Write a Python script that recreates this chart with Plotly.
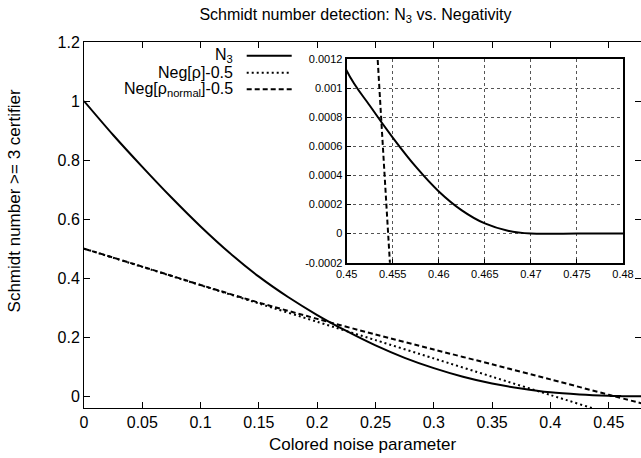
import plotly.graph_objects as go

# ---------------- data ----------------
x_n3 = [0, 0.025, 0.05, 0.075, 0.1, 0.125, 0.15, 0.175, 0.2, 0.225, 0.25, 0.275,
        0.3, 0.325, 0.35, 0.375, 0.4, 0.425, 0.45, 0.4525, 0.455, 0.4575, 0.46,
        0.4625, 0.465, 0.4675, 0.47, 0.475, 0.48]
n3 = [1.0, 0.885, 0.777, 0.673, 0.575, 0.485, 0.405, 0.336, 0.275, 0.221, 0.172, 0.13,
      0.095, 0.066, 0.043, 0.026, 0.013, 0.0056, 0.00112, 0.00088, 0.00066, 0.00046, 0.00029,
      0.00016, 0.00007, 0.00002, 0.0, 0.0, 0.0]

x_neg = [0, 0.05, 0.1, 0.15, 0.2, 0.25, 0.3, 0.35, 0.4, 0.45, 0.48]
neg_rho = [0.5, 0.438, 0.376, 0.314, 0.252, 0.19, 0.128, 0.066, 0.004, -0.058, -0.095]

x_norm = [0, 0.05, 0.1, 0.15, 0.2, 0.25, 0.3, 0.35, 0.4, 0.45, 0.4545, 0.48]
neg_norm = [0.5, 0.439, 0.377, 0.317, 0.262, 0.209, 0.158, 0.108, 0.057, 0.0048, 0.0, -0.026]

main_xticks = [0, 0.05, 0.1, 0.15, 0.2, 0.25, 0.3, 0.35, 0.4, 0.45]
main_yticks = [0, 0.2, 0.4, 0.6, 0.8, 1, 1.2]
inset_xticks = [0.45, 0.455, 0.46, 0.465, 0.47, 0.475, 0.48]
inset_yticks = [-0.0002, 0, 0.0002, 0.0004, 0.0006, 0.0008, 0.001, 0.0012]
inset_ytext = ["-0.0002", "0", "0.0002", "0.0004", "0.0006", "0.0008", "0.001", "0.0012"]

labels = ["N<sub>3</sub>", "Neg[ρ]-0.5", "Neg[ρ<sub>normal</sub>]-0.5"]
dashes = ["solid", "2px,3px", "5px,3px"]

FONT = "Liberation Sans, Arial, Helvetica, sans-serif"

fig = go.Figure()
series = [(x_n3, n3), (x_neg, neg_rho), (x_norm, neg_norm)]
for (xs, ys), d in zip(series, dashes):
    fig.add_trace(go.Scatter(x=xs, y=ys, mode="lines", showlegend=False,
                             line=dict(color="black", width=2, dash=d, shape="spline", smoothing=0.8),
                             xaxis="x", yaxis="y"))
for (xs, ys), d in zip(series, dashes):
    fig.add_trace(go.Scatter(x=xs, y=ys, mode="lines", showlegend=False,
                             line=dict(color="black", width=2, dash=d, shape="spline", smoothing=0.8),
                             xaxis="x2", yaxis="y2"))

# legend (manual, right-aligned text + sample line)
rows_y = [0.9626, 0.9161, 0.8708]
annotations = []
shapes = []
for lab, d, yy in zip(labels, dashes, rows_y):
    annotations.append(dict(text=lab, x=0.2711, y=yy, xref="paper", yref="paper",
                            xanchor="right", yanchor="middle", showarrow=False,
                            font=dict(size=16, color="black", family=FONT)))
    shapes.append(dict(type="line", xref="paper", yref="paper", x0=0.2921, x1=0.3729,
                       y0=yy, y1=yy, line=dict(color="black", width=2, dash=d)))

annotations.append(dict(text="Colored noise parameter", x=0.5, y=-0.0984, xref="paper",
                        yref="paper", xanchor="center", yanchor="middle", showarrow=False,
                        font=dict(size=17, color="black", family=FONT)))
annotations.append(dict(text="Schmidt number >= 3 certifier", x=-0.1246, y=0.566,
                        xref="paper", yref="paper", xanchor="center", yanchor="middle",
                        textangle=-90, showarrow=False,
                        font=dict(size=17, color="black", family=FONT)))

fig.update_layout(
    width=641, height=458,
    margin=dict(l=84, r=0, t=42, b=50, autoexpand=False),
    paper_bgcolor="white", plot_bgcolor="white",
    font=dict(family=FONT, size=16, color="black"),
    title=dict(text="Schmidt number detection: N<sub>3</sub> vs. Negativity",
               x=0.5546, xanchor="center", y=0.969, yanchor="middle", yref="container",
               font=dict(size=16, family=FONT, color="black")),
    xaxis=dict(domain=[0, 1], range=[0, 0.4777], tickvals=main_xticks,
               ticks="inside", ticklen=6, tickcolor="black", showline=True,
               linecolor="black", linewidth=1, mirror="ticks", showgrid=False,
               zeroline=False, tickfont=dict(size=16)),
    yaxis=dict(domain=[0, 1], range=[-0.04, 1.2], tickvals=main_yticks,
               ticks="inside", ticklen=6, tickcolor="black", showline=True,
               linecolor="black", linewidth=1, mirror="ticks", showgrid=False,
               zeroline=False, tickfont=dict(size=16)),
    xaxis2=dict(domain=[0.4716, 0.9677], anchor="y2", range=[0.45, 0.48],
                tickvals=inset_xticks, ticks="inside", ticklen=4, tickcolor="black",
                showline=True, linecolor="black", linewidth=2, mirror=True,
                showgrid=True, gridcolor="#555", griddash="dot", gridwidth=1,
                zeroline=False, tickfont=dict(size=11)),
    yaxis2=dict(domain=[0.397, 0.9536], anchor="x2", range=[-0.0002, 0.0012],
                tickvals=inset_yticks, ticktext=inset_ytext, ticks="inside", ticklen=4,
                tickcolor="black", showline=True, linecolor="black", linewidth=2,
                mirror=True, showgrid=True, gridcolor="#555", griddash="dot",
                gridwidth=1, zeroline=False, tickfont=dict(size=11)),
    annotations=annotations,
    shapes=shapes,
)

fig.write_html("out.html", config={"displayModeBar": False},
               post_script=("document.body.style.margin='0';document.body.style.padding='0';"
                            "document.body.style.overflow='hidden';"
                            "document.documentElement.style.overflow='hidden';"))
